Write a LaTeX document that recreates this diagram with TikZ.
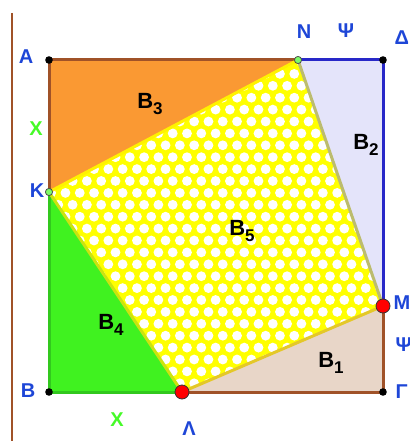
\documentclass[tikz,border=0pt]{standalone}
\usepackage{fontspec}
\setmainfont{Liberation Sans}

\definecolor{edgebrown}{RGB}{160,82,40}
\definecolor{edgeblue}{RGB}{40,40,200}
\definecolor{edgegreen}{RGB}{50,200,30}
\definecolor{labelblue}{RGB}{30,70,215}
\definecolor{labelgreen}{RGB}{70,250,40}
\definecolor{fillorange}{RGB}{250,153,51}
\definecolor{filllav}{RGB}{228,228,250}
\definecolor{filltan}{RGB}{232,214,200}
\definecolor{fillgreen}{RGB}{64,242,32}
\definecolor{quadyellow}{RGB}{255,255,0}
\definecolor{edgeolive}{RGB}{188,188,110}
\definecolor{edgegold}{RGB}{228,200,40}

\newcommand{\lowidx}[1]{\raisebox{-0.45ex}{\fontsize{17}{19}\selectfont #1}}

\tikzset{
  ptlabel/.style={inner sep=0pt, text=labelblue, font=\fontsize{20}{23}\selectfont\bfseries},
  sidelabel/.style={inner sep=0pt, text=labelgreen, font=\fontsize{20}{23}\selectfont\bfseries},
  arealabel/.style={inner sep=0pt, text=black, font=\fontsize{22}{25}\selectfont\bfseries},
  blackpt/.style={fill=black},
  greenpt/.style={fill=labelgreen!70!white, draw=black!70, line width=0.8pt},
  redpt/.style={fill=red, draw=black!80, line width=0.8pt},
}

\begin{document}
\begin{tikzpicture}[x=1pt, y=-1pt, line width=3pt, line cap=round, line join=round]

  %% ════ 顶点 ════
  \coordinate (A) at (49,60);
  \coordinate (D) at (383,60);
  \coordinate (B) at (49,392);
  \coordinate (G) at (383,392);
  \coordinate (N) at (298,60);
  \coordinate (K) at (49,192);
  \coordinate (L) at (182,392);
  \coordinate (M) at (383,306);

  %% ════ 左侧竖线 ════
  \draw[edgebrown, line width=2.5pt, line cap=butt] (12,13) -- (12,441);

  %% ════ 三角形填充 ════
  \fill[fillorange] (A) -- (N) -- (K) -- cycle;
  \fill[filllav] (N) -- (D) -- (M) -- cycle;
  \fill[filltan] (M) -- (G) -- (L) -- cycle;
  \fill[fillgreen] (K) -- (L) -- (B) -- cycle;

  %% ════ 四边形 KNMΛ（白点花纹）════
  \fill[quadyellow] (K) -- (N) -- (M) -- (L) -- cycle;
  \begin{scope}
    \clip (K) -- (N) -- (M) -- (L) -- cycle;
    \foreach \r in {0,...,28}
      \foreach \c in {0,...,25}
        \fill[white] ({44+14.3*\c+7.15*mod(\r,2)},{62+11.9*\r}) circle (4.9);
  \end{scope}

  %% ════ 边 ════
  \draw[edgebrown] (K) -- (A) -- (N);
  \draw[edgeblue] (N) -- (D) -- (M);
  \draw[edgebrown] (M) -- (G) -- (L);
  \draw[edgegreen] (L) -- (B) -- (K);
  \draw[quadyellow!90!orange] (K) -- (N);
  \draw[edgeolive] (N) -- (M);
  \draw[edgegold] (M) -- (L);
  \draw[yellow!80!green] (L) -- (K);

  %% ════ 点 ════
  \fill[blackpt] (A) circle (3.8);
  \fill[blackpt] (D) circle (3.8);
  \fill[blackpt] (B) circle (3.8);
  \fill[blackpt] (G) circle (3.8);
  \path[greenpt] (N) circle (3.6);
  \path[greenpt] (K) circle (3.6);
  \path[redpt] (M) circle (7);
  \path[redpt] (L) circle (7);

  %% ════ 标签 ════
  \node[ptlabel] (labA) at (26,57) {A};
  \node[ptlabel] (labN) at (304,32) {N};
  \node[ptlabel] (labPsiTop) at (346,31) {Ψ};
  \node[ptlabel, anchor=west] (labD) at (393,38) {Δ};
  \node[ptlabel, anchor=west] (labM) at (392,303) {M};
  \node[ptlabel, anchor=west] (labPsiRight) at (394,345) {Ψ};
  \node[ptlabel, anchor=west] (labG) at (394,392) {Γ};
  \node[ptlabel] (labK) at (37,191) {K};
  \node[ptlabel] (labB) at (28,391) {B};
  \node[ptlabel] (labL) at (189,429) {Λ};
  \node[sidelabel] (labXleft) at (36,129) {X};
  \node[sidelabel] (labXbot) at (117,420) {X};

  \node[arealabel] (labB3) at (150,104) {B\lowidx{3}};
  \node[arealabel] (labB2) at (366,145) {B\lowidx{2}};
  \node[arealabel] (labB5) at (242,231) {B\lowidx{5}};
  \node[arealabel] (labB4) at (111,325) {B\lowidx{4}};
  \node[arealabel] (labB1) at (331,363) {B\lowidx{1}};

  % 钉死画布
  \pgfresetboundingbox
  \path[use as bounding box] (0,0) rectangle (409,441);
\end{tikzpicture}
\end{document}
